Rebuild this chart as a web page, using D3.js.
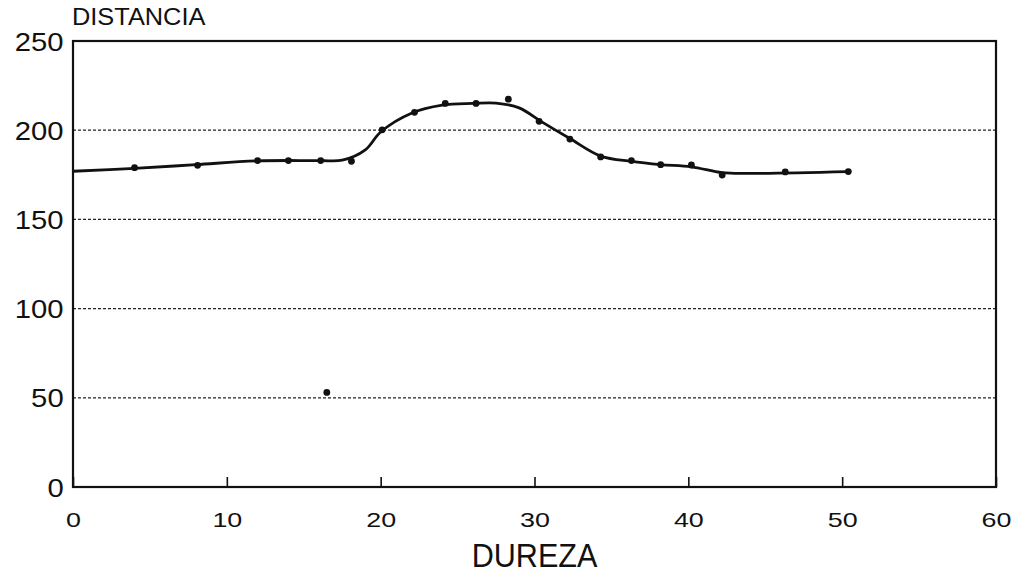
<!DOCTYPE html>
<html><head><meta charset="utf-8">
<script src="https://cdn.jsdelivr.net/npm/d3@7"></script>
<style>
html,body{margin:0;padding:0;background:#fff;}
svg{display:block;}
text{font-family:"Liberation Sans",Arial,Helvetica,sans-serif;fill:#111;}
</style></head>
<body>
<svg id="chart" width="1016" height="574"></svg>
<script>
// Measured points (DUREZA, DISTANCIA)
const pointX = [4.0, 8.1, 12.0, 14.0, 16.1, 18.1, 20.1, 22.2, 24.2, 26.2, 28.3, 30.3, 32.3, 34.3, 36.3, 38.2, 40.2, 42.2, 46.3, 50.4];
const pointY = [179, 180.3, 183, 183, 183, 182.6, 200.2, 210, 215, 215, 217.4, 205, 195, 185, 183, 180.7, 180.5, 174.9, 176.6, 176.8];
// isolated mark
const strayX = [16.5];
const strayY = [53];
// fitted smooth curve
const curveX = [0, 4, 8, 12, 16, 17.5, 19, 20, 22, 24, 26, 27.5, 29, 30.5, 32.3, 34.3, 36.3, 38.2, 40.2, 42.2, 44, 50.4];
const curveY = [177, 178.6, 180.7, 182.8, 183, 183.2, 189, 199, 209.5, 214, 215, 215.2, 212.5, 204.5, 195.3, 185.5, 182.5, 180.7, 179.5, 176.2, 175.8, 176.8];
const xTicks = [0, 10, 20, 30, 40, 50, 60];
const yTicks = [0, 50, 100, 150, 200, 250];
const gridY = [50, 100, 150, 200];
const xTitle = "DUREZA";
const yTitle = "DISTANCIA";

const svg = d3.select("#chart");
const x = d3.scaleLinear().domain([0, 60]).range([73, 996]);
const y = d3.scaleLinear().domain([0, 250]).range([487, 41]);

// gridlines
svg.append("g").selectAll("line").data(gridY).join("line")
  .attr("x1", x(0)).attr("x2", x(60))
  .attr("y1", d => y(d)).attr("y2", d => y(d))
  .attr("stroke", "#222").attr("stroke-width", 1.3)
  .attr("stroke-dasharray", "3,2");

// frame
svg.append("rect").attr("x", x(0)).attr("y", y(250))
  .attr("width", x(60) - x(0)).attr("height", y(0) - y(250))
  .attr("fill", "none").attr("stroke", "#111").attr("stroke-width", 2.2);

// x axis (ticks inward)
const xAxis = svg.append("g").attr("transform", `translate(0,${y(0)})`)
  .call(d3.axisBottom(x).tickValues(xTicks).tickSizeInner(-10).tickSizeOuter(0).tickPadding(25).tickFormat(d3.format("d")));
xAxis.select(".domain").remove();
xAxis.selectAll(".tick line").attr("stroke", "#111").attr("stroke-width", 1.6);
xAxis.selectAll(".tick text").attr("font-size", 21).attr("fill", "#111")
  .attr("transform", "scale(1.28,1)");

// y axis
const yAxis = svg.append("g").attr("transform", `translate(${x(0)},0)`)
  .call(d3.axisLeft(y).tickValues(yTicks).tickSize(0).tickPadding(8).tickFormat(d3.format("d")));
yAxis.select(".domain").remove();
yAxis.selectAll(".tick text").attr("font-size", 25).attr("fill", "#111")
  .attr("dy", "0.36em").attr("transform", "scale(1.17,1)");

// titles
svg.append("text").attr("transform", "translate(72,25) scale(1.08,1)")
  .attr("font-size", 23.5).text(yTitle);
svg.append("text")
  .attr("transform", `translate(${(x(0) + x(60)) / 2},567) scale(0.9,1)`)
  .attr("text-anchor", "middle").attr("font-size", 34)
  .text(xTitle);

// curve
const curveData = curveX.map((d, i) => [d, curveY[i]]);
svg.append("path").datum(curveData)
  .attr("d", d3.line().x(d => x(d[0])).y(d => y(d[1])).curve(d3.curveCatmullRom.alpha(0.5)))
  .attr("fill", "none").attr("stroke", "#111").attr("stroke-width", 2.8);

// points
const pts = pointX.map((d, i) => [d, pointY[i]]).concat(strayX.map((d, i) => [d, strayY[i]]));
svg.append("g").selectAll("circle").data(pts).join("circle")
  .attr("cx", d => x(d[0])).attr("cy", d => y(d[1])).attr("r", 3.4).attr("fill", "#111");
</script>
</body></html>
